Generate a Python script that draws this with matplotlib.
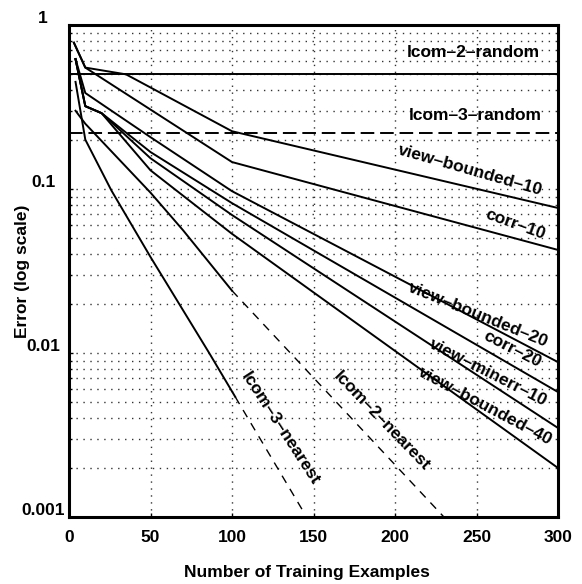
import matplotlib
matplotlib.use("Agg")
import matplotlib.pyplot as plt
import matplotlib.transforms as mtransforms

# ---------------- data ----------------
lcom2_random = 0.5
lcom3_random = 0.22

vb10_x = [3, 10, 35, 100, 300]
vb10_y = [0.78, 0.55, 0.50, 0.225, 0.0766]

corr10_x = [3, 10, 100, 300]
corr10_y = [0.78, 0.55, 0.146, 0.0425]

vb20_x = [4, 10, 50, 100, 300]
vb20_y = [0.62, 0.385, 0.207, 0.097, 0.0088]

corr20_x = [4, 10, 20, 50, 100, 300]
corr20_y = [0.62, 0.32, 0.29, 0.168, 0.082, 0.00578]

minerr10_x = [4, 10, 20, 50, 100, 300]
minerr10_y = [0.62, 0.32, 0.29, 0.154, 0.0694, 0.00349]

vb40_x = [4, 10, 20, 50, 100, 300]
vb40_y = [0.62, 0.32, 0.29, 0.13, 0.0533, 0.00199]

l3n_x = [4, 10, 26, 50, 86, 102]
l3n_y = [0.45, 0.20, 0.098, 0.0385, 0.010, 0.0054]
l3n_ext_x = [102, 144]
l3n_ext_y = [0.0054, 0.00107]

l2n_x = [4, 10, 50, 70, 100]
l2n_y = [0.30, 0.25, 0.095, 0.056, 0.024]
l2n_ext_x = [100, 230]
l2n_ext_y = [0.024, 0.001]

xticks = [0, 50, 100, 150, 200, 250, 300]
yticks = [0.001, 0.01, 0.1, 1]
ytick_labels = ["0.001", "0.01", "0.1", "1"]

labels = [
    ("lcom\u20132\u2013random", 248, 0.684, 0),
    ("lcom\u20133\u2013random", 249.5, 0.279, 0),
    ("view\u2013bounded\u201310", 246, 0.130, -16),
    ("corr\u201310", 274, 0.0604, -20),
    ("view\u2013bounded\u201320", 251, 0.0170, -22),
    ("corr\u201320", 272, 0.0105, -27),
    ("view\u2013minerr\u201310", 257, 0.00755, -27),
    ("view\u2013bounded\u201340", 255, 0.00474, -28),
    ("lcom\u20133\u2013nearest", 129.7, 0.00345, -57),
    ("lcom\u20132\u2013nearest", 191.8, 0.00385, -46),
]

# ---------------- figure ----------------
plt.rcParams['font.family'] = ['Liberation Sans', 'DejaVu Sans']
plt.rcParams['font.weight'] = 'bold'

fig = plt.figure(figsize=(5.82, 5.84), dpi=100)
ax = fig.add_axes([69/582, 67/584, 489/582, 492/584])
ax.set_yscale('log')
ax.set_xlim(0, 300)
ax.set_ylim(0.001, 1)

# grid
ax.set_xticks(xticks)
ax.set_yticks(yticks)
ax.set_yticklabels(ytick_labels)
ax.grid(True, which='major', axis='x', color='0.2', linestyle=(0, (1, 4)), linewidth=1.0)
ax.grid(True, which='both', axis='y', color='0.2', linestyle=(0, (1, 4)), linewidth=1.0)

lw = 1.4
ax.axhline(lcom2_random, color='black', lw=lw)
ax.axhline(lcom3_random, color='black', lw=lw, linestyle=(0, (7, 3)))
ax.plot(vb10_x, vb10_y, color='black', lw=lw)
ax.plot(corr10_x, corr10_y, color='black', lw=lw)
ax.plot(vb20_x, vb20_y, color='black', lw=lw)
ax.plot(corr20_x, corr20_y, color='black', lw=lw)
ax.plot(minerr10_x, minerr10_y, color='black', lw=lw)
ax.plot(vb40_x, vb40_y, color='black', lw=lw)
ax.plot(l3n_x, l3n_y, color='black', lw=lw)
ax.plot(l3n_ext_x, l3n_ext_y, color='black', lw=1.0, linestyle=(0, (6, 5)))
ax.plot(l2n_x, l2n_y, color='black', lw=lw)
ax.plot(l2n_ext_x, l2n_ext_y, color='black', lw=1.0, linestyle=(0, (6, 5)))

for txt, x, y, rot in labels:
    ax.text(x, y, txt, rotation=rot, ha='center', va='center', fontsize=12.5,
            fontweight='bold', rotation_mode='anchor', color='black')

for sp in ax.spines.values():
    sp.set_linewidth(2.2)

ax.tick_params(axis='both', which='both', direction='in', length=3, width=1,
               labelsize=12.5)
ax.tick_params(axis='y', which='minor', length=2)
ax.tick_params(axis='x', pad=9)
ax.tick_params(axis='y', pad=26*0.72)
ax.yaxis.set_minor_formatter(matplotlib.ticker.NullFormatter())

offset = mtransforms.ScaledTranslation(0, 8/100, fig.dpi_scale_trans)
for lbl in ax.get_yticklabels():
    lbl.set_horizontalalignment('center')
    lbl.set_transform(lbl.get_transform() + offset)
for lbl in ax.get_xticklabels() + ax.get_yticklabels():
    lbl.set_fontweight('bold')

ax.set_xlabel("Number of Training Examples", fontsize=12.5, fontweight='bold')
ax.set_ylabel("Error (log scale)", fontsize=12.5, fontweight='bold')
ax.xaxis.set_label_coords(0.487, -0.097)
ax.yaxis.set_label_coords(-0.080, 0.5)

fig.savefig("out.png", dpi=100)
